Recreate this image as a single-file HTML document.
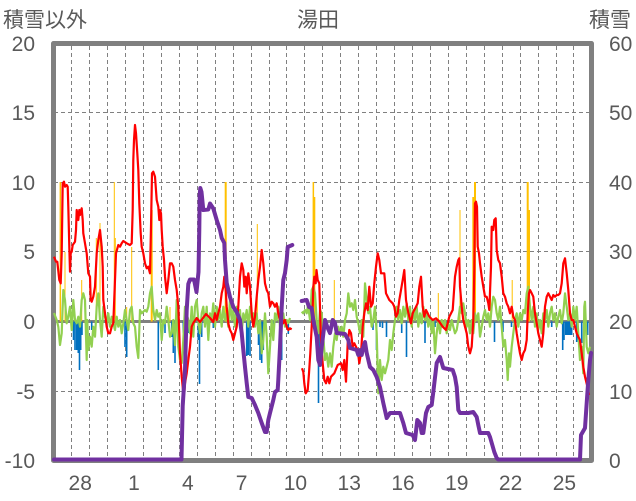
<!DOCTYPE html>
<html>
<head>
<meta charset="utf-8">
<style>
html,body{margin:0;padding:0;background:#fff;}
svg{display:block;}
text{font-family:"Liberation Sans","Noto Sans CJK JP",sans-serif;fill:#595959;}
</style>
</head>
<body>
<svg width="636" height="501" viewBox="0 0 636 501" xmlns="http://www.w3.org/2000/svg">
<rect x="0" y="0" width="636" height="501" fill="#fff"/>
<text x="3" y="27" font-size="21" font-family="'Noto Sans CJK JP',sans-serif">積雪以外</text>
<text x="318" y="27" font-size="21" text-anchor="middle" font-family="'Noto Sans CJK JP',sans-serif">湯田</text>
<text x="631" y="27" font-size="21" text-anchor="end" font-family="'Noto Sans CJK JP',sans-serif">積雪</text>

<g stroke="#808080" stroke-width="1" stroke-dasharray="4 3" fill="none">
<line x1="54" y1="112.5" x2="591" y2="112.5"/>
<line x1="54" y1="182.5" x2="591" y2="182.5"/>
<line x1="54" y1="251.5" x2="591" y2="251.5"/>
<line x1="54" y1="391.5" x2="591" y2="391.5"/>
<line x1="71.5" y1="46" x2="71.5" y2="458"/>
<line x1="89.5" y1="46" x2="89.5" y2="458"/>
<line x1="107.5" y1="46" x2="107.5" y2="458"/>
<line x1="125.5" y1="46" x2="125.5" y2="458"/>
<line x1="143.5" y1="46" x2="143.5" y2="458"/>
<line x1="161.5" y1="46" x2="161.5" y2="458"/>
<line x1="179.5" y1="46" x2="179.5" y2="458"/>
<line x1="197.5" y1="46" x2="197.5" y2="458"/>
<line x1="215.5" y1="46" x2="215.5" y2="458"/>
<line x1="233.5" y1="46" x2="233.5" y2="458"/>
<line x1="251.5" y1="46" x2="251.5" y2="458"/>
<line x1="269.5" y1="46" x2="269.5" y2="458"/>
<line x1="286.5" y1="46" x2="286.5" y2="458"/>
<line x1="304.5" y1="46" x2="304.5" y2="458"/>
<line x1="322.5" y1="46" x2="322.5" y2="458"/>
<line x1="340.5" y1="46" x2="340.5" y2="458"/>
<line x1="358.5" y1="46" x2="358.5" y2="458"/>
<line x1="376.5" y1="46" x2="376.5" y2="458"/>
<line x1="394.5" y1="46" x2="394.5" y2="458"/>
<line x1="412.5" y1="46" x2="412.5" y2="458"/>
<line x1="430.5" y1="46" x2="430.5" y2="458"/>
<line x1="448.5" y1="46" x2="448.5" y2="458"/>
<line x1="466.5" y1="46" x2="466.5" y2="458"/>
<line x1="484.5" y1="46" x2="484.5" y2="458"/>
<line x1="502.5" y1="46" x2="502.5" y2="458"/>
<line x1="520.5" y1="46" x2="520.5" y2="458"/>
<line x1="538.5" y1="46" x2="538.5" y2="458"/>
<line x1="556.5" y1="46" x2="556.5" y2="458"/>
<line x1="573.5" y1="46" x2="573.5" y2="458"/>
</g>

<rect x="53.5" y="43.5" width="538" height="417" fill="none" stroke="#808080" stroke-width="5" stroke-linejoin="round"/>
<line x1="54" y1="321.5" x2="591" y2="321.5" stroke="#808080" stroke-width="3"/>

<g fill="#FFC000">
<rect x="59.6" y="182" width="1.5" height="139.5"/>
<rect x="64.5" y="252" width="1" height="69.5"/>
<rect x="81.2" y="280" width="1" height="41.5"/>
<rect x="95.8" y="238" width="1" height="83.5"/>
<rect x="99.5" y="223" width="1" height="98.5"/>
<rect x="113.8" y="182" width="1" height="139.5"/>
<rect x="114.8" y="238" width="1" height="83.5"/>
<rect x="126.2" y="307" width="1" height="14.5"/>
<rect x="131.2" y="247" width="1" height="74.5"/>
<rect x="150.7" y="210" width="2" height="111.5"/>
<rect x="169.5" y="307" width="1" height="14.5"/>
<rect x="224.7" y="182" width="2" height="139.5"/>
<rect x="256.8" y="224" width="1" height="97.5"/>
<rect x="312.6" y="182" width="1.5" height="139.5"/>
<rect x="313.8" y="197" width="1.5" height="124.5"/>
<rect x="333.8" y="280" width="1" height="41.5"/>
<rect x="402.2" y="308" width="1" height="13.5"/>
<rect x="437.8" y="293" width="1" height="28.5"/>
<rect x="459.5" y="210" width="1" height="111.5"/>
<rect x="472.3" y="197" width="2" height="124.5"/>
<rect x="474" y="182" width="2" height="139.5"/>
<rect x="490" y="267" width="1" height="54.5"/>
<rect x="511.7" y="280" width="1" height="41.5"/>
<rect x="526.7" y="182" width="2" height="139.5"/>
<rect x="527" y="210" width="3" height="111.5"/>
</g>

<g fill="#0070C0">
<rect x="72.7" y="321.5" width="1.6" height="18.5"/>
<rect x="74.2" y="321.5" width="1.6" height="28.5"/>
<rect x="75.9" y="321.5" width="1.6" height="28.5"/>
<rect x="77.5" y="321.5" width="1.6" height="31.5"/>
<rect x="78.7" y="321.5" width="1.6" height="48.5"/>
<rect x="79.9" y="321.5" width="1.6" height="28.5"/>
<rect x="81.2" y="321.5" width="1.6" height="13.5"/>
<rect x="90.9" y="321.5" width="1.6" height="8.5"/>
<rect x="106.2" y="321.5" width="1.6" height="6.5"/>
<rect x="124.2" y="321.5" width="1.6" height="25.5"/>
<rect x="125.9" y="321.5" width="1.6" height="35.5"/>
<rect x="157.5" y="321.5" width="1.6" height="48.5"/>
<rect x="164.2" y="321.5" width="1.6" height="11.5"/>
<rect x="170.9" y="321.5" width="1.6" height="15.5"/>
<rect x="172.5" y="321.5" width="1.6" height="31.5"/>
<rect x="174.2" y="321.5" width="1.6" height="41.5"/>
<rect x="182.5" y="321.5" width="1.6" height="11.5"/>
<rect x="187.5" y="321.5" width="1.6" height="11.5"/>
<rect x="197.5" y="321.5" width="1.6" height="18.5"/>
<rect x="198.7" y="321.5" width="1.6" height="62.5"/>
<rect x="200.9" y="321.5" width="1.6" height="15.5"/>
<rect x="212.5" y="321.5" width="1.6" height="6.5"/>
<rect x="245.9" y="321.5" width="1.6" height="34.5"/>
<rect x="247.5" y="321.5" width="1.6" height="33.5"/>
<rect x="249.2" y="321.5" width="1.6" height="34.5"/>
<rect x="257.7" y="321.5" width="1.6" height="23.5"/>
<rect x="259.2" y="321.5" width="1.6" height="38.5"/>
<rect x="260.9" y="321.5" width="1.6" height="41.5"/>
<rect x="262.5" y="321.5" width="1.6" height="28.5"/>
<rect x="272.5" y="321.5" width="1.6" height="5.5"/>
<rect x="280.9" y="321.5" width="1.6" height="38.5"/>
<rect x="287.5" y="321.5" width="1.6" height="12.5"/>
<rect x="317.7" y="321.5" width="1.6" height="81.5"/>
<rect x="319.2" y="321.5" width="1.6" height="38.5"/>
<rect x="370.9" y="321.5" width="1.6" height="5.5"/>
<rect x="372.2" y="321.5" width="1.6" height="8.5"/>
<rect x="375.7" y="321.5" width="1.6" height="28.5"/>
<rect x="379.2" y="321.5" width="1.6" height="5.5"/>
<rect x="381.7" y="321.5" width="1.6" height="6.5"/>
<rect x="385.7" y="321.5" width="1.6" height="15.5"/>
<rect x="400.9" y="321.5" width="1.6" height="11.5"/>
<rect x="405.7" y="321.5" width="1.6" height="35.5"/>
<rect x="424.2" y="321.5" width="1.6" height="21.5"/>
<rect x="434.2" y="321.5" width="1.6" height="5.5"/>
<rect x="445.9" y="321.5" width="1.6" height="11.5"/>
<rect x="493.7" y="321.5" width="1.6" height="20.5"/>
<rect x="502.2" y="321.5" width="1.6" height="10.5"/>
<rect x="510.7" y="321.5" width="1.6" height="5.5"/>
<rect x="550.9" y="321.5" width="1.6" height="5.5"/>
<rect x="561.9" y="321.5" width="1.6" height="28.5"/>
<rect x="563.2" y="321.5" width="1.6" height="18.5"/>
<rect x="565" y="321.5" width="7.5" height="13.5"/>
<rect x="575.9" y="321.5" width="1.6" height="20.5"/>
<rect x="580.9" y="321.5" width="1.6" height="21.5"/>
<rect x="586.9" y="321.5" width="1.6" height="13.5"/>
</g>

<g fill="none" stroke="#92D050" stroke-width="2.2" stroke-linejoin="round">
<polyline points="54,313 56.7,320 58.3,326.7 60,345 61.7,333.3 63.3,290 65,300 66.7,323.3 68.3,316.7 70,306.7 71.7,330 73.3,300 75,320 76.7,323.3 78.3,316.7 80,326.7 81.7,300 83.3,293.3 85,300 86.7,360 87.3,320 88.3,350 90,336.7 91.7,346.7 93.3,326.7 95,336.7 96.7,306.7 98.3,293.3 100,320 101.7,336.7 103.3,306.7 105,316.7 106.7,323.3 108.3,313.3 110,326.7 111.7,316.7 113.3,323.3 115,330 116.7,316.7 118.3,326.7 120,320 121.7,333.3 123.3,323.3 125,310 126.7,320 128.3,330 130,310 131.7,306.7 133.3,323.3 135,326.7 136.7,346.7 138.3,358 140,310 141.7,313.3 143.3,311.7 145,310 146.7,311.7 148.3,306.7 150,293.3 151.7,286.7 153.3,310 155,320 156.7,310 158.3,316.7 160,313.3 161.7,340 163.3,320 165,323.3 166.7,306.7 168.3,320 170,336.7 171.7,333.3 173.3,320 175,345 176.7,300 178.3,346.7 180,360 181.7,363 183.3,340 185,306.7 188.3,320 190,333.3 191.7,306.7 193.3,336.7 195,306.7 196.7,300 198.3,320 200,333.3 201.7,313.3 203.3,306.7 205,326.7 206.7,306.7 208.3,340 210,313.3 211.7,320 213.3,303.3 215,326.7 216.7,306.7 218.3,320 220,310 221.7,326.7 223.3,306.7 225,320 226.7,313.3 228.3,326.7 230,300 231.7,320 233.3,310 235,326.7 236.7,306.7 238.3,320 240,310 241.7,333.3 243.3,313.3 245,320 246.7,310 248.3,326.7 250,306.7 251.7,320 253.3,313.3 255,326.7 256.7,313.3 258.3,333.3 260,320 261.7,353.3 263.3,340 265,313.3 266.7,336.7 268.3,373.3 270,346.7 271.7,320 273.3,340 275,313.3 276.7,320 278.3,306.7 280,326.7 281.7,320 283.3,313.3 285,326.7 286.7,320 288.3,323 290,318"/>
<polyline points="301.7,311.7 303.3,313.3 305,310 306.7,313.3 308,305 310,320 311.7,290 313.3,286.7 315,293.3 316.7,320 318.3,333.3 320,310 321.7,313.3 323.3,336.7 325,360 326.7,353.3 328.3,366.7 330,353.3 331.7,366.7 333.3,346.7 335,333.3 336.7,340 338.3,326.7 340,333.3 341.7,326.7 343.3,336.7 345,320 346.7,313.3 348.3,293.3 350,306.7 351.7,303.3 353.3,310 355,300 356.7,316.7 358.3,323.3 360,333.3 361.7,320 363.3,336.7 365,283.3 366.7,300 368.3,313.3 370,306.7 371.7,326.7 373.3,320 375,306.7 376.7,333.3 378.3,393.3 380,360 381.7,380 383.3,366.7 385,373.3 386.7,366.7 388.3,360 390,340 391.7,350 393.3,333.3 395,320 396.7,306.7 398.3,320 400,310 401.7,323.3 403.3,306.7 405,316.7 406.7,303.3 408.3,320 410,306.7 411.7,326.7 413.3,310 415,320 416.7,306.7 418.3,326.7 420,313.3 421.7,323.3 423.3,306.7 425,320 426.7,313.3 428.3,326.7 430,316.7 431.7,333.3 433.3,320 435,353.3 436.7,333.3 438.3,320 440,333.3 441.7,320 443.3,326.7 445,320 446.7,333.3 448.3,323.3 450,330 451.7,320 453.3,326.7 455,333.3 456.7,330 458.3,320 460,306.7 461.7,313.3 463.3,303.3 465,313.3 466.7,326.7 468.3,320 470,333.3 471.7,320 473.3,333.3 475,313.3 476.7,320 478.3,313.3 480,336.7 481.7,326.7 483.3,316.7 485,310 486.7,320 488.3,313.3 490,326.7 491.7,306.7 493.3,296.7 495,300 496.7,313.3 498.3,320 500,306.7 501.7,326.7 503.3,346.7 505,340 506.7,360 507.7,380 509,353.3 510,366.7 511.7,346.7 513.3,333.3 515,320 516.7,313.3 518.3,326.7 520,313.3 521.7,320 523.3,310 525,313.3 526.7,293.3 528.3,286.7 530,306.7 531.7,320 533.3,306.7 535,326.7 536.7,313.3 538.3,330 540,320 541.7,333.3 543.3,313.3 545,320 546.7,310 548.3,326.7 550,313.3 551.7,306.7 553.3,320 555,313.3 556.7,326.7 558.3,316.7 560,310 561.7,323.3 563.3,313.3 565,293.3 566.7,306.7 568.3,320 570,313.3 571.7,326.7 573.3,306.7 575,320 576.7,306.7 578.3,333.3 580,360 581.7,346.7 583.3,373.3 584.3,306.7 585,301.7 586.7,346.7 588.3,353.3 590,346.7"/>
</g>

<g fill="none" stroke="#FF0000" stroke-width="2.2" stroke-linejoin="round">
<polyline points="54,256.7 56,261.7 57.3,261.7 59.3,280 60.7,283.3 61.7,253.3 62.7,183.3 64,181.7 65,186.7 66.7,185 67.7,186.7 68.3,206.7 69.3,246.7 70,271.7 70.7,253.3 71.7,251.7 72.7,245 75,241.7 76,230 76.7,210 78.3,220 79.3,210 80,215 81.7,208.3 82.7,220 83.3,233.3 85,243.3 86.7,253.3 88.3,273.3 90,276.7 90.7,300 91.7,301.7 93.3,296.7 95,286.7 96.7,253.3 98.3,240 100,230 101.7,246.7 102.7,266.7 103.3,300 105,313.3 106.7,326.7 108.3,333.3 110,333.3 111.7,326.7 113.3,323.3 115,280 116,253.3 118.3,245 120,246.7 121.7,243.3 123.3,241 126.7,243.3 130,245 131.7,243.3 132.7,210 133.3,160 134,140 135,125 136,133.3 137.3,153.3 138.3,170 139.3,203.3 140.7,233.3 141.7,246.7 143.3,253.3 145,263.3 146.7,268.3 148.3,266.7 150,273.3 151,226.7 152,173.3 153.3,171.7 155,176.7 156.7,200 158.3,206.7 159.3,220 160,210 161,213.3 161.7,230 162.7,246.7 164,260 165,276.7 166.7,293.3 168.3,280 170,263.3 171.7,263.3 173.3,266.7 175,280 176.7,290 178.3,306.7 180,353.3 181.7,376.7 183,390 184.3,393.3 185,383.3 186.7,373.3 188.3,360 190,346.7 191.7,326.7 193.3,323 196.7,318 200,322 203,318 206,314 210,318 213.3,322 215,313.3 216.7,320 218.3,313 220,306.7 221.7,293.3 223.3,286.7 224.3,276.7 225.7,290 226.7,306.7 228.3,323.3 230,330 231.7,333.3 233.3,340 235,333.3 236.7,326.7 238.3,306.7 240,276.7 241.7,263.3 243.3,270 244.3,286.7 245.7,276.7 246.7,293.3 248.3,273.3 250,286.7 251.7,313.3 253.3,326.7 255,316.7 256.7,296.7 258.3,280 260,266.7 261.7,250 263.3,263.3 265,283.3 266.7,290 268.3,293.3 270,306.7 271.7,301.7 273.3,303.3 275,306.7 276.7,303.3 278.3,313.3 280,320 281.7,316.7 283.3,323.3 285,320 286.7,326.7 288.3,330 290,328.3 291.7,329.3"/>
<polyline points="302,368.3 303.3,372 304.3,383.3 305.7,393.3 307.7,390 309,373.3 310.3,353.3 311.7,326.7 312.7,306.7 313.3,286.7 314.3,276.7 315.7,283.3 316.5,270 317.7,280 319.3,283.3 321,343.3 322.7,363.3 324.3,380 326,383.3 327.7,376.7 329.3,383.3 331,376.7 334.3,373.3 337.7,365 341,363.3 342.7,370 344.3,360 346,381.7 347,360 347.7,343.3 349.3,330 351,333.3 352.7,346.7 354.3,343.3 356,346.7 357.7,350 359.3,363.3 361,353.3 362.7,326.7 364.3,313.3 366,303.3 367.7,310 369.3,286.7 371,306.7 372.7,303.3 374.3,283.3 376,266.7 377.7,253.3 379.3,260 381,273.3 384.3,273.3 386,293.3 389.3,300 392.7,303.3 394.3,306.7 396,316.7 397.7,313.3 399.3,300 401,290 402.7,280 404.3,270 406,300 407.7,310 409.3,316.7 411,323.3 412.7,313.3 416,306.7 417.7,303.3 419.3,286.7 421,276.7 422.7,306.7 424.3,316.7 426,310 427.7,313.3 429.3,316.7 432.7,320 436,318.3 439.3,321.7 442.7,326.7 446,330 449.3,316.7 452.7,310 455,276.7 456.7,266.7 458.3,260 459.3,258.3 460,286.7 461.7,306.7 463.3,320 465,326.7 466.7,333.3 468.3,346.7 470,353.3 471.7,346.7 473.3,320 474.3,270 475,203.3 476,201.7 477,206.7 477.7,246.7 479,253.3 480,263.3 481.7,276.7 483.3,286.7 485,296.7 486.7,296.7 488.3,303.3 489.3,310 491,266.7 491.7,226.7 493.3,230 494.3,220 495.7,218.3 496.7,250 498.3,260 500,263.3 501.7,276.7 503.3,293.3 505,296.7 506.7,303.3 508.3,306.7 510,313.3 511.7,306.7 513.3,316.7 515,320 516.7,333.3 518.3,343.3 520,353.3 521.7,360 523.3,353.3 525,350 526.7,340 527.7,313.3 529,293.3 530,290 531.7,293.3 533.3,296.7 535,313.3 536.7,323.3 538.3,333.3 540,340 541.7,346.7 543.3,333.3 545,306.7 546.7,296.7 548.3,293.3 550,296.7 551.7,300 553.3,295 555,296.7 556.7,295 558.3,295 560,293.3 561.7,283.3 563.3,263.3 565,258.3 566.7,273.3 568.3,290 570,313.3 571.7,320 573.3,320 575,326.7 576.7,333.3 578.3,336.7 580,340 581.7,353.3 583.3,366.7 585,376.7 587,385 589,395"/>
</g>

<g fill="none" stroke="#7030A0" stroke-width="4" stroke-linejoin="round" stroke-linecap="round">
<polyline points="54,459.5 181.5,459.5 182.7,406 185,370 186.7,310 188.3,284 190,279.5 194,279.5 196.5,292 198.5,272 199.3,230 199.7,195 200.3,188 201.5,192 203.3,210 208.3,209.5 210,203.5 213.3,208.5 216.7,220 220,230 221.7,238 224.3,243 225,260 226.7,283 230,297 233.3,307 236.7,312 240,320 241.7,333 243.3,350 245,367 246.7,383 248.3,397 251.7,398 255,405 258.3,413 261.7,423 265,432 266.7,432 268.3,420 270,413 273.3,400 275,392 277.7,390 278.3,380 280,347 281.7,307 283.3,280 285,273 286.7,260 287.7,247 292.3,245"/>
<polyline points="301.7,301 306.7,300 309,307 311.7,308 313.3,320 316.7,337 318.3,360 320,365 321.7,347 325,320 327.3,327 330,333 332.7,320 335,323 336.7,333 345,334 348.3,340 350,348 356.7,350 358.3,355 360,350 361.7,355 363.3,347 365,342 366.7,353 370,367 373.3,370 376.7,377 380,387 383.3,403 386.7,418 390,413 400,413 403.3,423 406,433 412.7,435 415,440 417.3,420 420,423 421.7,433 423.3,433 426,413 428.3,407 431.7,405 433.3,392 436.7,363 440,357 443.3,368 452.7,370 455,377 456.7,387 458.3,410 460,413 468.3,413 473.3,412 476.7,417 478.3,425 480,433 488.3,433 490,437 492.3,445 494.3,452 496.7,458 498.3,459.5 580,459.5 581,435 585,428 586.7,403 588.3,380 590,360 591,353"/>
</g>

<g font-size="21" text-anchor="end">
<text x="35" y="51">20</text>
<text x="35" y="120">15</text>
<text x="35" y="190">10</text>
<text x="35" y="259">5</text>
<text x="35" y="329">0</text>
<text x="35" y="399">-5</text>
<text x="35" y="468">-10</text>
</g>
<g font-size="21" text-anchor="start">
<text x="609" y="51">60</text>
<text x="609" y="120">50</text>
<text x="609" y="190">40</text>
<text x="609" y="259">30</text>
<text x="609" y="329">20</text>
<text x="609" y="399">10</text>
<text x="609" y="468">0</text>
</g>
<g font-size="21" text-anchor="middle">
<text x="80.2" y="490">28</text>
<text x="134" y="490">1</text>
<text x="187.8" y="490">4</text>
<text x="241.6" y="490">7</text>
<text x="295.4" y="490">10</text>
<text x="349.2" y="490">13</text>
<text x="403" y="490">16</text>
<text x="456.8" y="490">19</text>
<text x="510.6" y="490">22</text>
<text x="564.4" y="490">25</text>
</g>
</svg>
</body>
</html>
